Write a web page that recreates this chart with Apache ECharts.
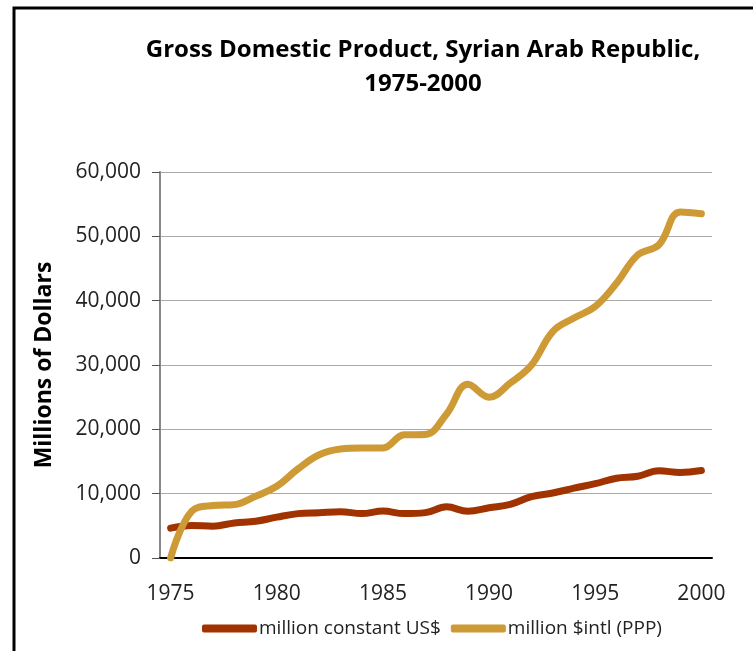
<!DOCTYPE html>
<html>
<head>
<meta charset="utf-8">
<script src="https://cdn.jsdelivr.net/npm/echarts@6/dist/echarts.min.js"></script>
<style>
html,body{margin:0;padding:0;background:#fff;}
#main{width:753px;height:651px;}
</style>
</head>
<body>
<div id="main"></div>
<script>
const years = ["1975","1976","1977","1978","1979","1980","1981","1982","1983","1984","1985","1986","1987","1988","1989","1990","1991","1992","1993","1994","1995","1996","1997","1998","1999","2000"];
const constantUSD = [4650, 5050, 4950, 5450, 5700, 6350, 6900, 7050, 7200, 6900, 7300, 6900, 7050, 7950, 7250, 7800, 8350, 9550, 10100, 10850, 11550, 12400, 12700, 13550, 13300, 13600];
const intlPPP = [0, 7300, 8150, 8300, 9600, 11150, 13850, 16050, 16950, 17100, 17100, 19150, 19200, 22400, 27000, 25000, 27200, 30000, 35200, 37300, 39100, 42700, 47100, 48700, 53800, 53500];
const seriesNames = ["million constant US$", "million $intl (PPP)"];
const yTicks = {min: 0, max: 60000, interval: 10000};

const FONT = "'Open Sans', 'Noto Sans', sans-serif";
const chart = echarts.init(document.getElementById('main'), null, {renderer: 'canvas'});
chart.setOption({
  backgroundColor: '#fff',
  animation: false,
  title: {
    text: 'Gross Domestic Product, Syrian Arab Republic,\n1975-2000',
    left: 418,
    top: 28,
    textAlign: 'center',
    textStyle: {fontFamily: FONT, fontWeight: 'bold', fontSize: 24, lineHeight: 34, color: '#000'}
  },
  graphic: [{
    type: 'rect',
    shape: {x: 14, y: 8, width: 900, height: 800},
    style: {fill: 'none', stroke: '#000', lineWidth: 3},
    silent: true
  }],
  legend: {
    top: 614,
    left: 197,
    itemWidth: 55,
    itemHeight: 8,
    itemGap: 10,
    icon: 'roundRect',
    textStyle: {fontFamily: FONT, fontSize: 19, color: '#222', padding: [0, 0, 0, -3]},
    data: seriesNames
  },
  grid: {left: 160, right: 41, top: 172, bottom: 93, containLabel: false},
  xAxis: {
    type: 'category',
    data: years,
    boundaryGap: true,
    axisLine: {lineStyle: {color: '#000', width: 2}},
    axisTick: {show: false},
    axisLabel: {interval: 4, fontFamily: FONT, fontSize: 21, color: '#222', margin: 26}
  },
  yAxis: {
    type: 'value',
    min: yTicks.min,
    max: yTicks.max,
    interval: yTicks.interval,
    name: 'Millions of Dollars',
    nameLocation: 'middle',
    nameGap: 104,
    nameTextStyle: {fontFamily: FONT, fontWeight: 'bold', fontSize: 23, color: '#000'},
    axisLine: {show: true, lineStyle: {color: '#888', width: 2}},
    axisTick: {show: true, length: 8, lineStyle: {color: '#555', width: 1}},
    axisLabel: {
      fontFamily: FONT, fontSize: 21, color: '#222', margin: 19,
      formatter: v => v.toLocaleString('en-US')
    },
    splitLine: {lineStyle: {color: '#aaa', width: 1}}
  },
  series: [
    {
      name: seriesNames[0], type: 'line', data: constantUSD, smooth: 0.4,
      symbol: 'none', color: '#A03300',
      lineStyle: {width: 7, cap: 'round', join: 'round', color: '#A03300'}
    },
    {
      name: seriesNames[1], type: 'line', data: intlPPP, smooth: 0.4,
      symbol: 'none', color: '#CE9A36',
      lineStyle: {width: 7, cap: 'round', join: 'round', color: '#CE9A36'}
    }
  ]
});
</script>
</body>
</html>
